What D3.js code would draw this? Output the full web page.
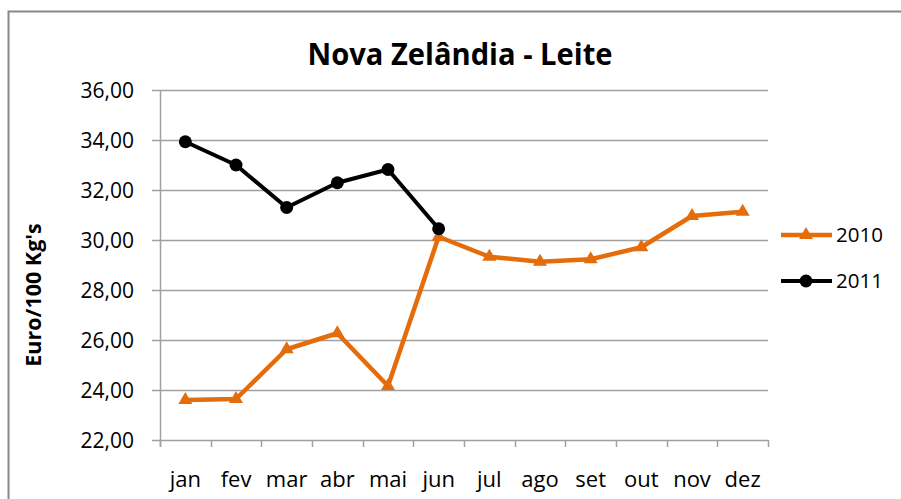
<!DOCTYPE html>
<html>
<head>
<meta charset="utf-8">
<script src="https://cdn.jsdelivr.net/npm/d3@7"></script>
<style>
  body { margin: 0; background: #fff; }
  svg { display: block; font-family: "Open Sans", sans-serif; }
</style>
</head>
<body>
<div id="chart"></div>
<script>
// Chart data
const months = ["jan", "fev", "mar", "abr", "mai", "jun", "jul", "ago", "set", "out", "nov", "dez"];
const values2010 = [23.60, 23.64, 25.63, 26.27, 24.16, 30.13, 29.33, 29.13, 29.23, 29.71, 30.96, 31.13];
const values2011 = [33.93, 33.00, 31.30, 32.29, 32.82, 30.45];
const yTicks = [22, 24, 26, 28, 30, 32, 34, 36];

const fullWidth = 901, fullHeight = 499;
const margin = { top: 90, right: 133, bottom: 59, left: 160 };
const width = fullWidth - margin.left - margin.right;
const height = fullHeight - margin.top - margin.bottom;

const svg = d3.select("#chart").append("svg")
    .attr("width", fullWidth)
    .attr("height", fullHeight);

// Chart outer border
svg.append("rect")
    .attr("x", 8.5).attr("y", 11.5)
    .attr("width", 1000).attr("height", 1000)
    .attr("fill", "none")
    .attr("stroke", "#878787")
    .attr("stroke-width", 2);

const g = svg.append("g")
    .attr("transform", "translate(" + margin.left + "," + margin.top + ")");

const x = d3.scaleBand()
    .domain(months)
    .range([0, width]);

const y = d3.scaleLinear()
    .domain([22, 36])
    .range([height, 0]);

// Gridlines (with the small tick left of the axis)
g.selectAll(".grid")
    .data(yTicks)
    .enter().append("line")
    .attr("x1", -8)
    .attr("x2", width)
    .attr("y1", d => Math.round(y(d)) + 0.5)
    .attr("y2", d => Math.round(y(d)) + 0.5)
    .attr("stroke", "#a0a0a0")
    .attr("stroke-width", 1.5);

// Y axis line
g.append("line")
    .attr("x1", 0.5).attr("x2", 0.5)
    .attr("y1", 0).attr("y2", height + 7)
    .attr("stroke", "#a0a0a0")
    .attr("stroke-width", 1.5);

// X axis ticks
const xTickPos = months.map(m => x(m)).concat([width]);
g.selectAll(".xtick")
    .data(xTickPos)
    .enter().append("line")
    .attr("x1", d => Math.round(d) + 0.5)
    .attr("x2", d => Math.round(d) + 0.5)
    .attr("y1", height)
    .attr("y2", height + 7)
    .attr("stroke", "#a0a0a0")
    .attr("stroke-width", 1.5);

// Y tick labels
const fmt = d => d3.format(".2f")(d).replace(".", ",");
g.selectAll(".ylabel")
    .data(yTicks)
    .enter().append("text")
    .attr("x", -26)
    .attr("y", d => y(d))
    .attr("dy", "0.36em")
    .attr("text-anchor", "end")
    .style("font-size", "21px")
    .attr("fill", "#000")
    .text(fmt);

// X tick labels
g.selectAll(".xlabel")
    .data(months)
    .enter().append("text")
    .attr("x", d => x(d) + x.bandwidth() / 2)
    .attr("y", height + 47)
    .attr("text-anchor", "middle")
    .style("font-size", "22px")
    .attr("fill", "#000")
    .text(d => d);

// Title
svg.append("text")
    .attr("x", 460)
    .attr("y", 65)
    .attr("text-anchor", "middle")
    .attr("textLength", 305)
    .attr("lengthAdjust", "spacingAndGlyphs")
    .style("font-size", "31px")
    .style("font-weight", "bold")
    .text("Nova Zelândia - Leite");

// Y axis title
svg.append("text")
    .attr("transform", "translate(41," + 295 + ") rotate(-90)")
    .attr("text-anchor", "middle")
    .style("font-size", "21.5px")
    .style("font-weight", "bold")
    .text("Euro/100 Kg's");

const orange = "#E46C0A";
const line = d3.line()
    .x((d, i) => x(months[i]) + x.bandwidth() / 2)
    .y(d => y(d));

// 2010 series
g.append("path")
    .datum(values2010)
    .attr("d", line)
    .attr("fill", "none")
    .attr("stroke", orange)
    .attr("stroke-width", 4.5)
    .attr("stroke-linejoin", "round");

const tri = d3.symbol().type(d3.symbolTriangle).size(85);
g.selectAll(".tri")
    .data(values2010)
    .enter().append("path")
    .attr("d", tri)
    .attr("transform", (d, i) => "translate(" + (x(months[i]) + x.bandwidth() / 2) + "," + y(d) + ")")
    .attr("fill", orange);

// 2011 series
g.append("path")
    .datum(values2011)
    .attr("d", line)
    .attr("fill", "none")
    .attr("stroke", "#000")
    .attr("stroke-width", 4)
    .attr("stroke-linejoin", "round");

g.selectAll(".dot")
    .data(values2011)
    .enter().append("circle")
    .attr("cx", (d, i) => x(months[i]) + x.bandwidth() / 2)
    .attr("cy", d => y(d))
    .attr("r", 6.5)
    .attr("fill", "#000");

// Legend
const legendItems = [
    { name: "2010", color: orange, shape: "tri", y: 235 },
    { name: "2011", color: "#000", shape: "dot", y: 281 }
];
legendItems.forEach(item => {
    svg.append("line")
        .attr("x1", 781).attr("x2", 832)
        .attr("y1", item.y).attr("y2", item.y)
        .attr("stroke", item.color)
        .attr("stroke-width", item.shape === "tri" ? 4.5 : 4);
    if (item.shape === "tri") {
        svg.append("path")
            .attr("d", tri)
            .attr("transform", "translate(806," + item.y + ")")
            .attr("fill", item.color);
    } else {
        svg.append("circle")
            .attr("cx", 806).attr("cy", item.y).attr("r", 6.5)
            .attr("fill", item.color);
    }
    svg.append("text")
        .attr("x", 836)
        .attr("y", item.y)
        .attr("dy", "0.36em")
        .style("font-size", "20.5px")
        .text(item.name);
});
</script>
</body>
</html>
